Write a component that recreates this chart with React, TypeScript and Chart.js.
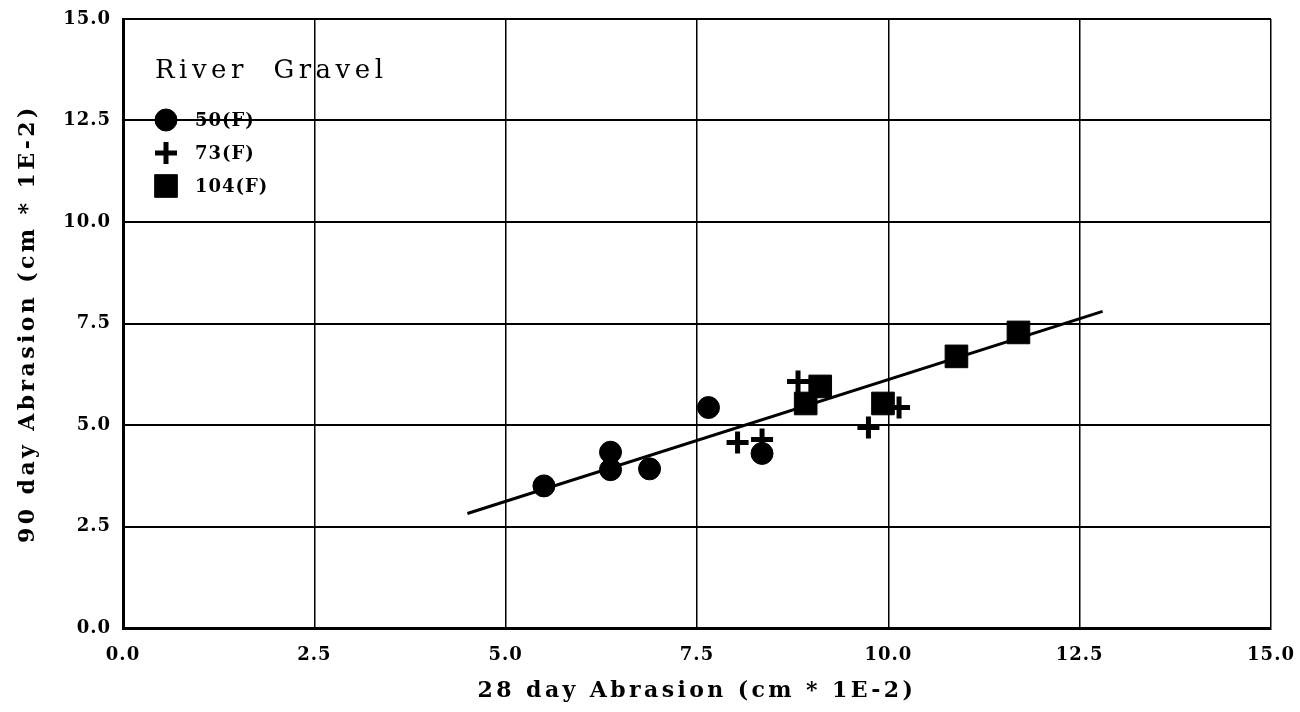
import React, { useEffect, useRef } from 'react';
import { Chart, registerables } from 'chart.js';
import { drawPoint } from 'chart.js/helpers';

Chart.register(...registerables);

// ---- data ----
const tickValues = [0, 2.5, 5, 7.5, 10, 12.5, 15];
const xTitle = '28 day Abrasion (cm * 1E-2)';
const yTitle = '90 day Abrasion (cm * 1E-2)';
const heading = 'River  Gravel';
const seriesLabels = ['50(F)', '73(F)', '104(F)'];

const x50 = [5.5, 6.37, 6.37, 6.88, 7.65, 8.35];
const y50 = [3.5, 4.33, 3.9, 3.92, 5.43, 4.3];

const x73 = [8.03, 8.35, 8.82, 9.74, 10.14];
const y73 = [4.57, 4.64, 6.07, 4.94, 5.43];

const x104 = [8.92, 9.11, 9.93, 10.89, 11.7];
const y104 = [5.53, 5.95, 5.53, 6.69, 7.28];

const fitX = [4.5, 12.8];
const fitY = [2.82, 7.8];

const FONT = '"DejaVu Serif", "Liberation Serif", serif';

const zip = (xs: number[], ys: number[]) => xs.map((x, i) => ({ x, y: ys[i] }));

const spacingPlugin = {
  id: 'spacing',
  beforeDraw(chart: any) {
    chart.ctx.letterSpacing = '3.4px';
  },
  afterDatasetsDraw(chart: any) {
    chart.ctx.letterSpacing = '1px';
  },
};

const legendPlugin = {
  id: 'inlineLegend',
  afterDraw(chart: any) {
    const ctx = chart.ctx as CanvasRenderingContext2D;
    const area = chart.chartArea;
    ctx.save();
    ctx.fillStyle = '#000';
    ctx.strokeStyle = '#000';
    (ctx as any).letterSpacing = '4.5px';
    ctx.font = `26px ${FONT}`;
    ctx.textBaseline = 'middle';
    ctx.textAlign = 'left';
    ctx.fillText(heading, area.left + 32, area.top + 52);
    (ctx as any).letterSpacing = '1px';
    ctx.font = `bold 18px ${FONT}`;
    const styles = chart.data.datasets.slice(0, 3);
    styles.forEach((ds: any, i: number) => {
      const cy = area.top + 101 + i * 33;
      const cx = area.left + 43;
      ctx.lineWidth = ds.pointBorderWidth;
      drawPoint(ctx, { pointStyle: ds.pointStyle, radius: ds.pointRadius, rotation: 0, borderWidth: ds.pointBorderWidth } as any, cx, cy);
      ctx.fillText(ds.label, area.left + 72, cy + 1);
    });
    ctx.restore();
  },
};

export default function App() {
  const ref = useRef<HTMLCanvasElement | null>(null);

  useEffect(() => {
    document.body.style.margin = '0';
    const canvas = ref.current!;
    const chart = new Chart(canvas, {
      type: 'scatter',
      data: {
        datasets: [
          {
            label: seriesLabels[0],
            data: zip(x50, y50),
            pointStyle: 'circle',
            pointRadius: 11,
            pointBorderWidth: 1,
            backgroundColor: '#000',
            borderColor: '#000',
          } as any,
          {
            label: seriesLabels[1],
            data: zip(x73, y73),
            pointStyle: 'cross',
            pointRadius: 11,
            pointBorderWidth: 5,
            backgroundColor: '#000',
            borderColor: '#000',
          },
          {
            label: seriesLabels[2],
            data: zip(x104, y104),
            pointStyle: 'rect',
            pointRadius: 16,
            pointBorderWidth: 1,
            backgroundColor: '#000',
            borderColor: '#000',
          },
          {
            type: 'line',
            label: 'fit',
            data: zip(fitX, fitY),
            showLine: true,
            borderColor: '#000',
            borderWidth: 3,
            pointRadius: 0,
            fill: false,
          } as any,
        ],
      },
      options: {
        animation: false,
        responsive: false,
        maintainAspectRatio: false,
        layout: { padding: { top: 19, right: 29, left: 0, bottom: 0 } },
        plugins: {
          legend: { display: false },
          tooltip: { enabled: false },
        },
        scales: {
          x: {
            type: 'linear',
            min: 0,
            max: 15,
            afterBuildTicks: (s: any) => {
              s.ticks = tickValues.map((v) => ({ value: v }));
            },
            afterFit: (s: any) => {
              s.height = 84;
              s.paddingLeft = 0;
              s.paddingRight = 0;
            },
            grid: { color: '#000', lineWidth: 1.5, drawTicks: false, z: 0 },
            border: { color: '#000', width: 3 },
            ticks: {
              color: '#000',
              padding: 17,
              z: 1,
              font: { family: FONT, size: 18, weight: 'bold' },
              callback: (v: any) => Number(v).toFixed(1),
            },
            title: {
              display: true,
              text: xTitle,
              color: '#000',
              font: { family: FONT, size: 22, weight: 'bold' },
              padding: { top: 0, bottom: 8 },
            },
          },
          y: {
            type: 'linear',
            min: 0,
            max: 15,
            afterBuildTicks: (s: any) => {
              s.ticks = tickValues.map((v) => ({ value: v }));
            },
            afterFit: (s: any) => {
              s.width = 123;
              s.paddingTop = 0;
              s.paddingBottom = 0;
            },
            grid: { color: '#000', lineWidth: 2, drawTicks: false, z: 0 },
            border: { color: '#000', width: 3 },
            ticks: {
              color: '#000',
              padding: 12,
              z: 1,
              font: { family: FONT, size: 18, weight: 'bold' },
              callback: (v: any) => Number(v).toFixed(1),
            },
            title: {
              display: true,
              text: yTitle,
              color: '#000',
              font: { family: FONT, size: 22, weight: 'bold' },
              padding: { top: 15, bottom: 0 },
            },
          },
        },
      },
      plugins: [spacingPlugin, legendPlugin],
    });
    return () => chart.destroy();
  }, []);

  return (
    <div style={{ position: 'absolute', left: 0, top: 0, width: 1300, height: 712, background: '#fff' }}>
      <canvas ref={ref} width={1300} height={712} style={{ display: 'block' }} />
    </div>
  );
}
